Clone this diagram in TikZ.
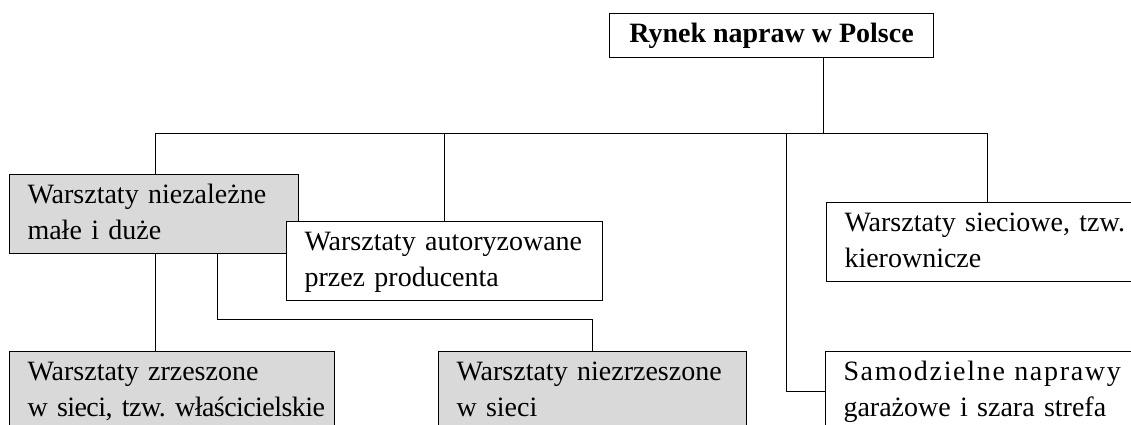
\documentclass[tikz,border=0pt]{standalone}
\usepackage{fontspec}
\setmainfont{Liberation Serif}
\definecolor{boxgray}{RGB}{217,217,217}
\tikzset{
  box/.style={draw, line width=1pt, anchor=north west, inner xsep=18pt,
    inner ysep=0pt, align=left, minimum height=79pt,
    font=\fontsize{28}{36}\selectfont,
    execute at begin node=\strut, execute at end node=\strut},
  graybox/.style={box, fill=boxgray},
  whitebox/.style={box, fill=white},
  titlebox/.style={draw, line width=1pt, anchor=north west, inner sep=0pt,
    minimum width=324pt, minimum height=44pt,
    font=\fontsize{28}{34}\selectfont\bfseries},
  link/.style={line width=1pt}
}

\begin{document}
\begin{tikzpicture}[x=1pt,y=-1pt]
\useasboundingbox (0,0) rectangle (1131,425);
\clip (0,0) rectangle (1131,425);

% boxes
\node[titlebox] (top) at (609,13) {Rynek napraw w Polsce};
\node[graybox, text width=253pt] (niez) at (9,174)
  {Warsztaty niezależne\\małe i duże};
\node[whitebox, text width=280pt] (autor) at (286,221)
  {Warsztaty autoryzowane\\przez producenta};
\node[whitebox, text width=304pt] (siec) at (826,202)
  {Warsztaty sieciowe, tzw.\\kierownicze};
\node[whitebox, text width=304pt] (samo) at (825,351)
  {{\addfontfeature{LetterSpace=6}Samodzielne naprawy}\\garażowe i szara strefa};
\node[graybox, text width=289pt] (zrz) at (9,351)
  {Warsztaty zrzeszone\\\mbox{\addfontfeature{LetterSpace=-2}w sieci, tzw.\ właścicielskie}};
\node[graybox, text width=272pt] (niezrz) at (438,351)
  {Warsztaty niezrzeszone\\w sieci};

% connectors
\coordinate (hub) at (823,133);
\coordinate (busL) at (155,133);
\coordinate (busR) at (987,133);
\coordinate (busS) at (786,133);
\coordinate (split) at (217,319);

\draw[link] (top.south -| hub) -- (hub);
\draw[link] (busL) -- (busR);
\draw[link] (busL) -- (niez.north -| busL);
\draw[link] (autor.north |- busL) -- (autor.north);
\draw[link] (busR) -- (siec.north -| busR);
\draw[link] (busS) |- (samo.west);
\draw[link] (niez.south -| busL) -- (zrz.north -| busL);
\draw[link] (niez.south -| split) -- (split) -| (niezrz.north);
\end{tikzpicture}
\end{document}
